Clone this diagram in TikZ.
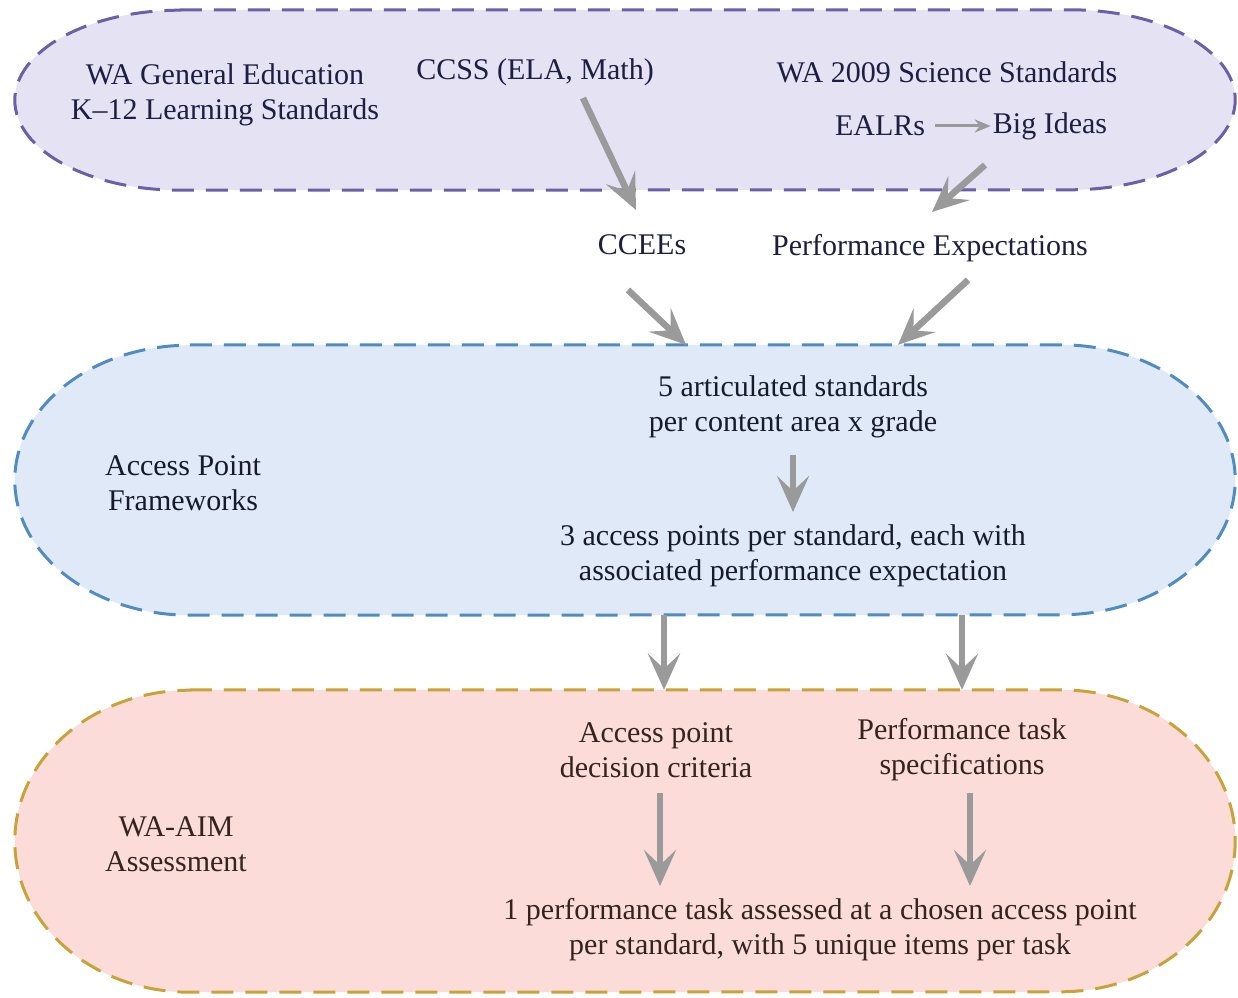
\documentclass[tikz,border=0pt]{standalone}
\usepackage{fontspec}
\setmainfont{Liberation Serif}
\usetikzlibrary{arrows.meta,calc}
\definecolor{topfill}{HTML}{E5E3F3}
\definecolor{topline}{HTML}{6B60A8}
\definecolor{midfill}{HTML}{E0E9F7}
\definecolor{midline}{HTML}{4F8CC4}
\definecolor{botfill}{HTML}{FBDCD8}
\definecolor{botline}{HTML}{C9A33A}
\definecolor{toptext}{HTML}{1E1D42}
\definecolor{midtext}{HTML}{161B2A}
\definecolor{bottext}{HTML}{33241F}
\definecolor{arrowgray}{HTML}{9A9A9A}
\tikzset{
  band/.style={draw=none, inner sep=0pt, minimum width=1220pt},
  outline/.style={line width=3pt, dash pattern=on 22pt off 12pt},
  lbl/.style={inner sep=0pt, align=center, font=\fontsize{30}{35}\selectfont},
  bigarrow/.style={draw=arrowgray, line width=6.5pt, -{Stealth[length=36pt,width=32pt,inset=15pt]}},
  smallarrow/.style={draw=arrowgray, line width=3pt, -{Stealth[length=16pt,width=13pt,inset=5pt]}}
}
\begin{document}
\begin{tikzpicture}[x=1pt,y=1pt]
\useasboundingbox[fill=white] (0,0) rectangle (1238,997);
% bands
\node[band, minimum height=180pt] (topband) at (625,897) {};
\node[band, minimum height=270pt] (midband) at (625,517) {};
\node[band, minimum height=302pt] (botband) at (625,156) {};
\draw[outline, draw=topline, fill=topfill]
  ([xshift=165pt]topband.north west) -- ([xshift=-165pt]topband.north east)
  arc[start angle=90, end angle=-90, x radius=165pt, y radius=90pt]
  -- ([xshift=165pt]topband.south west)
  arc[start angle=270, end angle=90, x radius=165pt, y radius=90pt] -- cycle;
\draw[outline, draw=midline, fill=midfill]
  ([xshift=175pt]midband.north west) -- ([xshift=-175pt]midband.north east)
  arc[start angle=90, end angle=-90, x radius=175pt, y radius=135pt]
  -- ([xshift=175pt]midband.south west)
  arc[start angle=270, end angle=90, x radius=175pt, y radius=135pt] -- cycle;
\draw[outline, draw=botline, fill=botfill]
  ([xshift=175pt]botband.north west) -- ([xshift=-175pt]botband.north east)
  arc[start angle=90, end angle=-90, x radius=175pt, y radius=151pt]
  -- ([xshift=175pt]botband.south west)
  arc[start angle=270, end angle=90, x radius=175pt, y radius=151pt] -- cycle;
% top texts
\node[lbl, text=toptext] (wagen) at (225,902) {WA General Education\\K–12 Learning Standards};
\node[lbl, text=toptext] (ccss) at (535,925) {CCSS (ELA, Math)};
\node[lbl, text=toptext] (sci) at (947,925) {WA 2009 Science Standards};
\node[lbl, text=toptext] (ealrs) at (880,871) {EALRs};
\node[lbl, text=toptext] (big) at (1050,871) {Big Ideas};
\node[lbl, text=toptext] (ccees) at (642,752) {CCEEs};
\node[lbl, text=toptext] (pe) at (930,749) {Performance Expectations};
% middle texts
\node[lbl, text=midtext] (apf) at (183,514) {Access Point\\Frameworks};
\node[lbl, text=midtext] (five) at (793,590) {5 articulated standards\\per content area x grade};
\node[lbl, text=midtext] (three) at (793,441) {3 access points per standard, each with\\associated performance expectation};
% bottom texts
\node[lbl, text=bottext] (aim) at (176,153) {WA-AIM\\Assessment};
\node[lbl, text=bottext] (apdc) at (656,247) {Access point\\decision criteria};
\node[lbl, text=bottext] (pts) at (962,247) {Performance task\\specifications};
\node[lbl, text=bottext] (one) at (820,67) {1 performance task assessed at a chosen access point\\per standard, with 5 unique items per task};
% arrows
\draw[smallarrow] ([xshift=10pt]ealrs.east) -- ([xshift=-2pt]big.west);
\draw[bigarrow] ($(ccss)+(48,-26)$) -- ($(ccees)+(-6,35)$);
\draw[bigarrow] ($(big)+(-65,-39)$) -- ($(pe)+(2,36)$);
\draw[bigarrow] ($(ccees)+(-14,-45)$) -- (midband.north -| 686,0);
\draw[bigarrow] ($(pe)+(38,-32)$) -- (midband.north -| 898,0);
\draw[bigarrow] ($(five)+(0,-48)$) -- ($(three)+(0,44)$);
\draw[bigarrow] (midband.south -| 664,0) -- (botband.north -| 664,0);
\draw[bigarrow] (midband.south -| 962,0) -- (botband.north -| 962,0);
\draw[bigarrow] ($(apdc)+(4,-43)$) -- ($(one)+(-160,44)$);
\draw[bigarrow] ($(pts)+(8,-43)$) -- ($(one)+(150,44)$);
\end{tikzpicture}
\end{document}
